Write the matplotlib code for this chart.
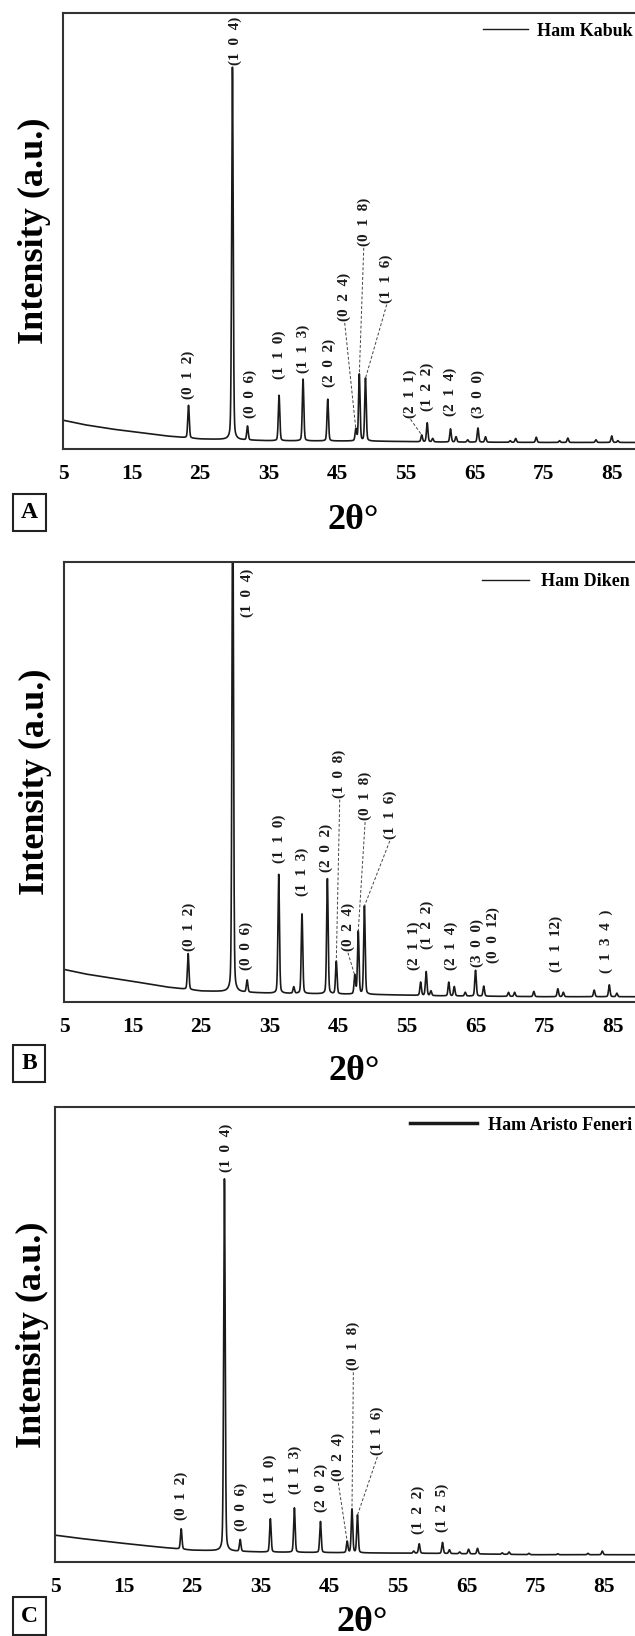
import numpy as np
import matplotlib
matplotlib.use("Agg")
import matplotlib.pyplot as plt

plt.rcParams['font.family'] = ['Liberation Serif', 'DejaVu Serif']
plt.rcParams['font.weight'] = 'bold'
plt.rcParams['axes.labelweight'] = 'bold'

# ---- data (2theta, intensity in axis-height units) ----
bg_x = [5, 8, 12, 15, 20, 25, 35, 50, 60, 75, 90]

# A - Ham Kabuk
A_bg = [0.066, 0.056, 0.046, 0.040, 0.030, 0.023, 0.019, 0.018, 0.016, 0.015, 0.015]
A_pos = [23.3, 29.7, 31.9, 36.5, 40.0, 43.6, 47.7, 48.2, 49.1, 57.3, 58.1, 58.9, 61.5,
         62.3, 64.0, 65.5, 66.6, 70.2, 71.0, 74.0, 77.4, 78.6, 82.7, 85.0, 85.9]
A_top = [0.100, 0.875, 0.052, 0.123, 0.160, 0.114, 0.045, 0.171, 0.162, 0.032, 0.060, 0.024, 0.046,
         0.028, 0.021, 0.048, 0.028, 0.019, 0.024, 0.027, 0.019, 0.025, 0.021, 0.030, 0.019]
A_hkl = ['(0 1 2)', '(1 0 4)', '(0 0 6)', '(1 1 0)', '(1 1 3)', '(2 0 2)', '(0 2 4)',
         '(0 1 8)', '(1 1 6)', '(2 1 1)', '(1 2 2)', '(2 1 4)', '(3 0 0)']

# B - Ham Diken
B_bg = [0.074, 0.064, 0.054, 0.047, 0.034, 0.025, 0.020, 0.017, 0.014, 0.012, 0.012]
B_pos = [23.1, 29.6, 31.7, 36.3, 38.5, 39.7, 43.4, 44.7, 47.4, 47.9, 48.8, 57.0, 57.8, 58.5,
         61.1, 61.9, 63.5, 65.0, 66.2, 69.8, 70.7, 73.5, 77.0, 77.8, 82.3, 84.5, 85.6]
B_top = [0.110, 1.200, 0.049, 0.290, 0.034, 0.200, 0.280, 0.092, 0.060, 0.160, 0.218, 0.045, 0.069, 0.025,
         0.045, 0.035, 0.022, 0.072, 0.036, 0.022, 0.022, 0.024, 0.030, 0.022, 0.027, 0.039, 0.020]
B_hkl = ['(0 1 2)', '(1 0 4)', '(0 0 6)', '(1 1 0)', '(1 1 3)', '(2 0 2)', '(1 0 8)', '(0 2 4)',
         '(0 1 8)', '(1 1 6)', '(2 1 1)', '(1 2 2)', '(2 1 4)', '(3 0 0)', '(0 0 12)', '(1 1 12)', '( 1 3 4 )']

# C - Ham Aristo Feneri
C_bg = [0.059, 0.053, 0.046, 0.041, 0.033, 0.026, 0.022, 0.020, 0.019, 0.016, 0.016]
C_pos = [23.4, 29.7, 32.0, 36.4, 39.9, 43.7, 47.6, 48.3, 49.1, 57.3, 58.1, 61.5, 62.5,
         64.0, 65.3, 66.6, 70.2, 71.2, 74.1, 78.3, 82.7, 84.8]
C_top = [0.073, 0.842, 0.049, 0.095, 0.119, 0.089, 0.045, 0.116, 0.103, 0.024, 0.040, 0.043, 0.027,
         0.022, 0.028, 0.030, 0.020, 0.022, 0.019, 0.018, 0.019, 0.024]
C_hkl = ['(0 1 2)', '(1 0 4)', '(0 0 6)', '(1 1 0)', '(1 1 3)', '(2 0 2)', '(0 2 4)',
         '(0 1 8)', '(1 1 6)', '(1 2 2)', '(1 2 5)']

xticks = [5, 15, 25, 35, 45, 55, 65, 75, 85]

# ---- layout: label placement (x, bottom) and leader lines {label index: peak index} ----
A_lab = [(23.25, 0.114), (30.07, 0.88), (32.26, 0.072), (36.47, 0.16), (40.0, 0.175), (43.8, 0.141),
         (46.07, 0.293), (48.85, 0.465), (52.2, 0.335), (55.67, 0.072), (58.16, 0.088), (61.4, 0.076),
         (65.5, 0.072)]
A_lead = {6: 6, 7: 7, 8: 8, 9: 9}
B_lab = [(23.2, 0.116), (31.7, 0.875), (31.6, 0.073), (36.35, 0.315), (39.7, 0.241), (43.3, 0.296),
         (45.2, 0.464), (46.4, 0.116), (48.9, 0.413), (52.5, 0.37), (56.1, 0.073), (58.0, 0.12),
         (61.4, 0.073), (65.2, 0.08), (67.6, 0.088), (76.7, 0.069), (84.1, 0.065)]
B_lead = {6: 7, 7: 8, 8: 9, 9: 10}
C_lab = [(23.4, 0.093), (29.9, 0.858), (32.2, 0.069), (36.4, 0.13), (40.0, 0.15), (43.8, 0.109),
         (46.3, 0.178), (48.5, 0.421), (52.0, 0.235), (58.0, 0.061), (61.4, 0.065)]
C_lead = {6: 6, 7: 7, 8: 8}

W, H = 635, 1636
fig = plt.figure(figsize=(W / 100, H / 100), dpi=100)
x = np.linspace(5, 90, 8501)


def pattern(pos, top, bg, fwhm=0.26):
    base = np.interp(x, bg_x, bg)
    y = base.copy()
    for p, t in zip(pos, top):
        amp = t - np.interp(p, bg_x, bg)
        d = (x - p) / (fwhm / 2)
        y += amp * (0.75 * np.exp(-np.log(2) * d ** 2) + 0.25 / (1 + d ** 2))
    return y


def panel(rect, pos, top, bg, hkl, lab, lead, name, leg, letter, xl, yl_x):
    left, t, b = rect
    ax = fig.add_axes([left / W, 1 - b / H, 583 / W, (b - t) / H])
    ax.plot(x, pattern(pos, top, bg), color='#1a1a1a', lw=1.2, label=name)
    ax.set_xlim(5, 90)
    ax.set_ylim(0, 1)
    ax.set_xticks(xticks)
    ax.set_yticks([])
    ax.tick_params(axis='x', length=0, pad=11, labelsize=15.5)
    for s in ax.spines.values():
        s.set_linewidth(1.5)
        s.set_color('#333333')

    for i, (txt, (lx, ly)) in enumerate(zip(hkl, lab)):
        ax.text(lx, ly, txt.replace(' ', '\u2002'), rotation=90, ha='center', va='bottom',
                fontsize=11, color='#1a1a1a')
        if i in lead:
            k = lead[i]
            ax.plot([lx, pos[k]], [ly - 0.004, top[k]], ls=(0, (3, 2)), lw=0.7, color='#444444')

    ax.set_xlabel('2θ°', fontsize=26)
    ax.xaxis.set_label_coords(xl[0], xl[1])
    ax.xaxis.label.set_va('center')
    ax.set_ylabel('Intensity (a.u.)', fontsize=26)
    ax.yaxis.set_label_coords(yl_x, 0.5)
    ax.yaxis.label.set_va('center')

    hl, hpad, lw, lx, ly = leg
    lg = ax.legend(loc='center right', bbox_to_anchor=(lx / W, 1 - ly / H), bbox_transform=fig.transFigure,
                   frameon=False, fontsize=13, handlelength=hl, handletextpad=hpad,
                   borderpad=0, borderaxespad=0)
    lg.get_lines()[0].set_linewidth(lw)

    ch, cx, cy = letter
    fig.text(cx / W, 1 - cy / H, ch, ha='center', va='center', fontsize=17,
             bbox=dict(boxstyle='square,pad=0.35', fc='white', ec='#222222', lw=1.5))
    return ax


panel((63, 12.7, 449), A_pos, A_top, A_bg, A_hkl, A_lab, A_lead, 'Ham Kabuk',
      (2.5, 0.5, 1.0, 633, 31), ('A', 29.5, 512.5), (0.497, -0.163), -0.049)
panel((64, 562, 1002), B_pos, B_top, B_bg, B_hkl, B_lab, B_lead, 'Ham Diken',
      (2.6, 0.7, 1.0, 630, 582), ('B', 29, 1063.5), (0.497, -0.157), -0.049)
panel((55, 1107, 1562), C_pos, C_top, C_bg, C_hkl, C_lab, C_lead, 'Ham Aristo Feneri',
      (3.7, 0.6, 2.5, 632, 1125), ('C', 29.5, 1616), (0.527, -0.132), -0.038)

fig.savefig('out.png', dpi=100)
